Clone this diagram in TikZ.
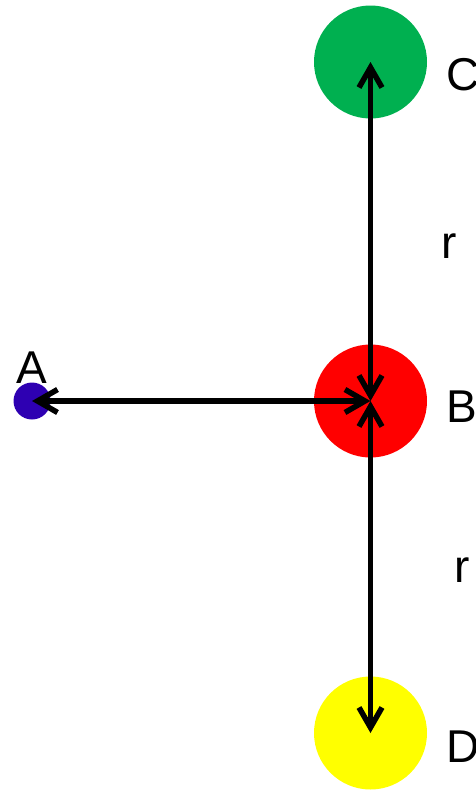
\documentclass[tikz,border=0pt]{standalone}
\usepackage{fontspec}
\setmainfont{Liberation Sans}
\usetikzlibrary{arrows.meta}
\definecolor{ballgreen}{RGB}{0, 176, 80}
\definecolor{ballred}{RGB}{255, 0, 0}
\definecolor{ballyellow}{RGB}{255, 255, 0}
\definecolor{dotblue}{RGB}{46, 0, 178}

\begin{document}
\begin{tikzpicture}[x=1pt, y=-1pt,
    ball/.style={circle, inner sep=0pt, minimum size=113pt},
    dot/.style={circle, fill=dotblue, inner sep=0pt, minimum size=37pt},
    lbl/.style={inner sep=0pt, font=\fontsize{46}{55}\selectfont},
    link/.style={{Straight Barb[length=20pt, width=23pt]}-{Straight Barb[length=20pt, width=23pt]},
                 line width=5.5pt, line cap=round, black}
]
\useasboundingbox (0,0) rectangle (475,790);

\node[ball, fill=ballgreen]  (C) at (370.5, 62)  {};
\node[ball, fill=ballred]    (B) at (370.5, 401) {};
\node[ball, fill=ballyellow] (D) at (370.5, 733) {};
\node[dot]                   (A) at (32, 401)    {};

\node[lbl, anchor=base]      (lA) at (32, 383)  {A};
\node[lbl, anchor=base west] (lC) at (446, 90)  {C};
\node[lbl, anchor=base west] (lB) at (446, 422) {B};
\node[lbl, anchor=base west] (lD) at (446, 762) {D};
\node[lbl, anchor=base west] (r1) at (441, 258) {r};
\node[lbl, anchor=base west] (r2) at (454, 582) {r};

\draw[link] (A.center) -- (B.center);
\draw[link] (B.center) -- (C.center);
\draw[link] (B.center) -- (D.center);

\end{tikzpicture}
\end{document}
